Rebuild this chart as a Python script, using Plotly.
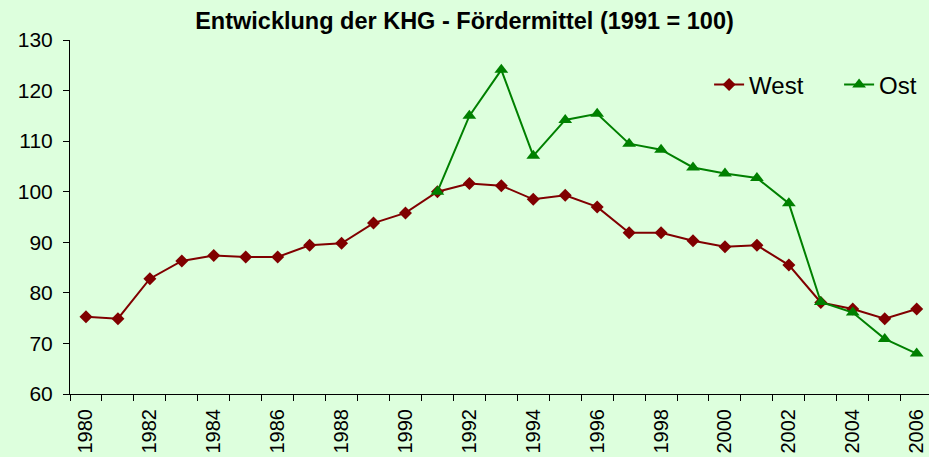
import plotly.graph_objects as go

years = list(range(1980, 2007))
west = [75.3, 74.9, 82.8, 86.3, 87.4, 87.1, 87.1, 89.4, 89.8, 93.8, 95.8,
        100.0, 101.6, 101.2, 98.5, 99.3, 97.0, 91.9, 91.9, 90.3, 89.1, 89.4,
        85.5, 78.1, 76.8, 74.9, 76.8]
ost_years = list(range(1991, 2007))
ost = [100.0, 115.0, 124.1, 107.1, 114.2, 115.4, 109.5, 108.3, 104.8, 103.6,
       102.7, 97.7, 78.2, 76.1, 70.9, 68.0]
label_years = list(range(1980, 2007, 2))
boundaries = [y - 0.5 for y in years]

bg = "#DDFFDD"
font = "Liberation Sans, Arial, sans-serif"

fig = go.Figure()
fig.add_trace(go.Scatter(x=years, y=west, name="West", mode="lines+markers",
                         line=dict(color="#800000", width=2),
                         marker=dict(symbol="diamond", size=10, color="#800000")))
fig.add_trace(go.Scatter(x=ost_years, y=ost, name="Ost", mode="lines+markers",
                         line=dict(color="#008000", width=2),
                         marker=dict(symbol="triangle-up", size=12, color="#008000")))

fig.update_layout(
    width=929, height=457,
    margin=dict(l=70, r=0, t=40, b=63, autoexpand=False),
    paper_bgcolor=bg, plot_bgcolor=bg,
    font=dict(family=font, size=20, color="black"),
    title=dict(text="<b>Entwicklung der KHG - Fördermittel (1991 = 100)</b>",
               x=0.5, xref="container", xanchor="center",
               y=1 - 21 / 457, yref="container", yanchor="middle",
               font=dict(size=23.5, family=font, color="black")),
    legend=dict(orientation="h", x=0.744, xanchor="left", y=0.873, yanchor="middle",
                bgcolor="rgba(0,0,0,0)", font=dict(size=24), itemwidth=30,
                entrywidth=85, entrywidthmode="pixels"),
    showlegend=True,
)
fig.update_xaxes(range=[1979.5, 2006.386], showgrid=False, zeroline=False,
                 showline=True, linecolor="black", linewidth=1, automargin=False,
                 tickmode="array", tickvals=label_years,
                 ticktext=[str(y) for y in label_years],
                 tickfont=dict(size=20),
                 ticks="", tickangle=-90, ticklabelstandoff=6,
                 minor=dict(tickmode="array", tickvals=boundaries, ticks="outside",
                            ticklen=6, tickcolor="black", tickwidth=1, showgrid=False))
fig.update_yaxes(range=[60, 130], dtick=10, tick0=60, showgrid=False, zeroline=False,
                 showline=True, linecolor="black", linewidth=1, automargin=False,
                 tickfont=dict(size=21),
                 ticks="outside", ticklen=6, tickcolor="black", ticklabelstandoff=6)

fig.write_html("out.html", config={"displayModeBar": False},
               post_script="document.body.style.margin='0';document.body.style.overflow='hidden';")
